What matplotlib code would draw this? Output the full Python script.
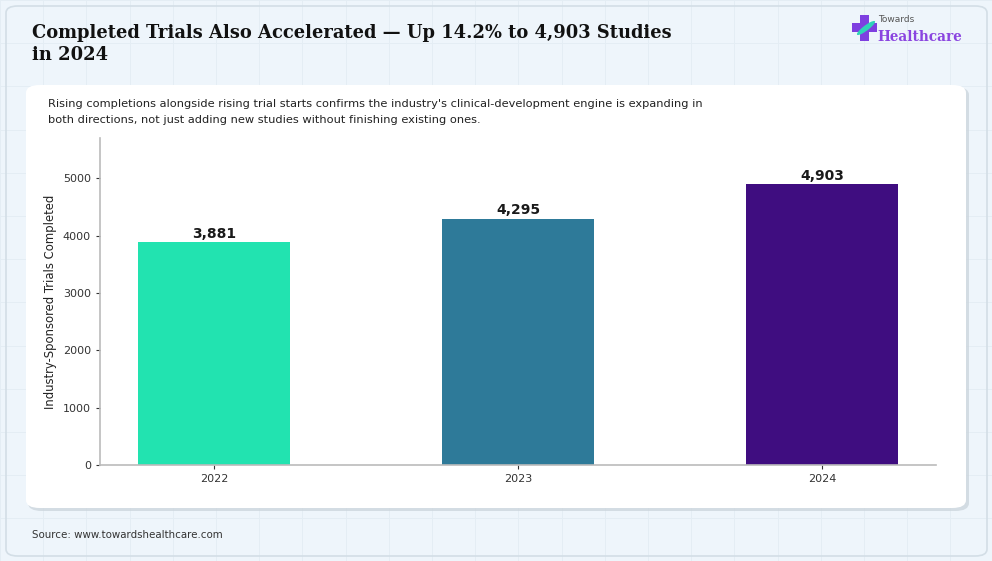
import numpy as np
import matplotlib
matplotlib.use("Agg")
import matplotlib.pyplot as plt
from matplotlib.patches import FancyBboxPatch, Rectangle, Ellipse
from matplotlib.lines import Line2D

# -------------------------
# DATA
# -------------------------
years = ["2022", "2023", "2024"]
completed = [3881, 4295, 4903]
bar_colors = ["#22E3B0", "#2E7A99", "#3F0D80"]

title = "Completed Trials Also Accelerated \u2014 Up 14.2% to 4,903 Studies\nin 2024"
subtitle = ("Rising completions alongside rising trial starts confirms the industry's clinical-development engine is expanding in\n"
            "both directions, not just adding new studies without finishing existing ones.")
source = "Source: www.towardshealthcare.com"

W, H = 992, 561


def fx(x):
    return x / W


def fy(y):
    return 1 - y / H


fig = plt.figure(figsize=(W / 100, H / 100), dpi=100)
fig.patch.set_facecolor("#EEF5FB")

# -------------------------
# BACKGROUND GRID
# -------------------------
for gx in np.arange(0, W, 43.2):
    fig.add_artist(Line2D([fx(gx), fx(gx)], [0, 1], color="#E4EDF4", lw=0.7, zorder=0))
for gy in np.arange(0, H, 43.2):
    fig.add_artist(Line2D([0, 1], [fy(gy), fy(gy)], color="#E4EDF4", lw=0.7, zorder=0))

# outer panel
fig.add_artist(FancyBboxPatch((fx(6), fy(556)), fx(981), 550 / H,
                              boxstyle="round,pad=0,rounding_size=0.012",
                              transform=fig.transFigure, facecolor="none",
                              edgecolor="#D3DEE6", lw=1.2, zorder=1))

# card shadow + card
fig.add_artist(FancyBboxPatch((fx(28), fy(511)), fx(941), 424 / H,
                              boxstyle="round,pad=0,rounding_size=0.014",
                              transform=fig.transFigure, facecolor="#CDD6DD",
                              edgecolor="none", alpha=0.8, zorder=1))
fig.add_artist(FancyBboxPatch((fx(26), fy(508)), fx(940), 423 / H,
                              boxstyle="round,pad=0,rounding_size=0.014",
                              transform=fig.transFigure, facecolor="white",
                              edgecolor="none", zorder=2))

# -------------------------
# TEXTS
# -------------------------
fig.text(fx(32), fy(24), title, ha="left", va="top", fontsize=12.9,
         family="DejaVu Serif", weight="bold", color="#111111",
         linespacing=1.25, zorder=5)
fig.text(fx(48), fy(99), subtitle, ha="left", va="top", fontsize=8.2,
         color="#222222", linespacing=1.75, zorder=5)
fig.text(fx(32), fy(535), source, ha="left", va="center", fontsize=7.4,
         color="#333333", zorder=5)

# logo
fig.add_artist(Rectangle((fx(860), fy(41)), fx(9), 26 / H, transform=fig.transFigure,
                         facecolor="#7E3FE0", edgecolor="none", zorder=5))
fig.add_artist(Rectangle((fx(852), fy(32)), fx(25), 9 / H, transform=fig.transFigure,
                         facecolor="#7E3FE0", edgecolor="none", zorder=5))
fig.add_artist(Ellipse((fx(866), fy(28)), fx(7), 17 / H, angle=-35,
                       transform=fig.transFigure, facecolor="#2FD3B8",
                       edgecolor="none", zorder=6))
fig.text(fx(878), fy(20), "Towards", ha="left", va="center", fontsize=6.5,
         color="#555555", zorder=6)
fig.text(fx(877), fy(37), "Healthcare", ha="left", va="center", fontsize=9.8,
         family="DejaVu Serif", weight="bold", color="#8A44E0", zorder=6)

# -------------------------
# BAR CHART
# -------------------------
ax = fig.add_axes([fx(100), fy(465), fx(836), (465 - 138) / H])
ax.set_facecolor("white")
ax.set_zorder(3)

x = np.arange(len(years))
ax.bar(x, completed, width=0.5, color=bar_colors)

for xi, v in zip(x, completed):
    ax.text(xi, v + 20, f"{v:,}", ha="center", va="bottom", fontsize=10,
            weight="bold", color="#1a1a1a")

ax.set_xticks(x)
ax.set_xticklabels(years)
ax.set_ylim(0, 5700)
ax.set_yticks([0, 1000, 2000, 3000, 4000, 5000])
ax.tick_params(labelsize=8, colors="#333333", length=3)
ax.set_ylabel("Industry-Sponsored Trials Completed", fontsize=8.4,
              color="#222222", labelpad=4)

for s in ["top", "right"]:
    ax.spines[s].set_visible(False)
for s in ["left", "bottom"]:
    ax.spines[s].set_color("#BBBBBB")
    ax.spines[s].set_linewidth(1.2)

fig.savefig("out.png", dpi=100, facecolor=fig.get_facecolor())
